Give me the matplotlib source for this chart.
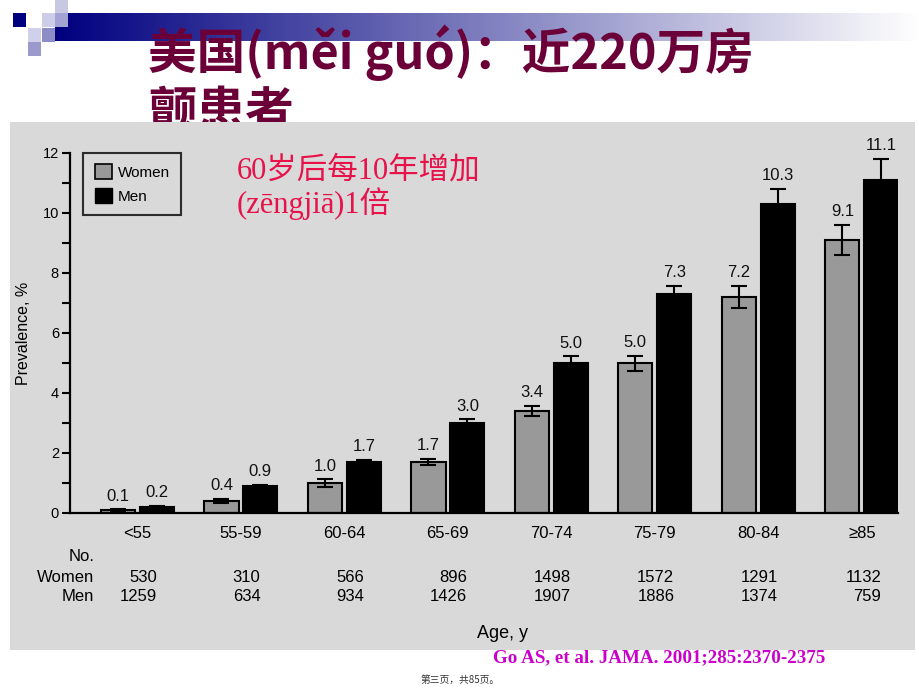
import numpy as np
import matplotlib
matplotlib.use("Agg")
import matplotlib.pyplot as plt
from matplotlib.patches import Rectangle, Patch

# ---- data ----
age_groups = ["<55", "55-59", "60-64", "65-69", "70-74", "75-79", "80-84", "≥85"]
women_prev = [0.1, 0.4, 1.0, 1.7, 3.4, 5.0, 7.2, 9.1]
men_prev = [0.2, 0.9, 1.7, 3.0, 5.0, 7.3, 10.3, 11.1]
women_err = [0.03, 0.07, 0.12, 0.1, 0.17, 0.25, 0.38, 0.5]
men_err = [0.04, 0.05, 0.07, 0.13, 0.23, 0.27, 0.5, 0.7]
women_n = [530, 310, 566, 896, 1498, 1572, 1291, 1132]
men_n = [1259, 634, 934, 1426, 1907, 1886, 1374, 759]

title_line1 = "美国(měi guó)：近220万房"
title_line2 = "颤患者"
note_text = "60岁后每10年增加\n(zēngjiā)1倍"
citation = "Go AS, et al. JAMA. 2001;285:2370-2375"
page_text = "第三页，共85页。"

CJK = ["Noto Sans CJK SC", "DejaVu Sans"]
CHART_FONT = ["Liberation Sans"]

fig = plt.figure(figsize=(9.2, 6.9), dpi=100)
fig.patch.set_facecolor("white")

# ---- slide background (pixel coordinates) ----
bg = fig.add_axes([0, 0, 1, 1])
bg.set_xlim(0, 920)
bg.set_ylim(690, 0)
bg.axis("off")

# gradient header bar
grad = np.linspace(0, 1, 400)[None, :]
navy = np.array([0.0, 0.0, 0.5])
cols = navy[None, None, :] * (1 - grad[..., None]) + np.ones(3)[None, None, :] * grad[..., None]
bg.imshow(cols, extent=(55, 920, 41, 13), aspect="auto", zorder=0.5)

squares = [
    (55, 0, "#c8c8e2"), (13, 13, "#00007f"), (42, 13, "#cdcde8"), (55, 13, "#a4a4d4"),
    (28, 28, "#d0d0ea"), (42, 28, "#8c8cc6"), (28, 42, "#9a9acc"),
]
for sx, sy, c in squares:
    bg.add_patch(Rectangle((sx, sy), 13.5, 14, color=c, lw=0, zorder=0.6))

bg.text(148, 53, title_line1, fontsize=35, fontweight="bold", color="#6b0038",
        family=CJK, va="center", ha="left", zorder=1)
bg.text(148, 113, title_line2, fontsize=35, fontweight="bold", color="#6b0038",
        family=CJK, va="center", ha="left", zorder=1)

# gray chart panel
bg.add_patch(Rectangle((10, 122), 905, 528, color="#d9d9d9", lw=0, zorder=2))

bg.text(493, 658, citation, fontsize=13.7, fontweight="bold", color="#cc00cc",
        family=["Liberation Serif"], va="center", ha="left", zorder=3)
bg.text(460, 680, page_text, fontsize=7, color="#333333", family=CJK,
        va="center", ha="center", zorder=3)

# red note
bg.text(237, 188, note_text, fontsize=22, color="#e8124a",
        family=["Liberation Serif", "Noto Sans CJK SC"], ha="left", va="center",
        linespacing=1.05, zorder=3)

# ---- chart ----
ax = fig.add_axes([70 / 920, 177 / 690, 828 / 920, 360 / 690])
ax.set_facecolor("none")

x = np.arange(len(age_groups))
off = 0.188
w = 0.33

ax.bar(x - off, women_prev, w, color="#999999", edgecolor="black", linewidth=1.5, zorder=2)
ax.bar(x + off, men_prev, w, color="black", edgecolor="black", linewidth=1.5, zorder=2)
ax.errorbar(x - off, women_prev, yerr=women_err, fmt="none", ecolor="black",
            elinewidth=1.5, capsize=6, capthick=1.5, zorder=3)
ax.errorbar(x + off, men_prev, yerr=men_err, fmt="none", ecolor="black",
            elinewidth=1.5, capsize=6, capthick=1.5, zorder=3)

for xs, vals, errs in [(x - off, women_prev, women_err), (x + off, men_prev, men_err)]:
    for xi, v, e in zip(xs, vals, errs):
        ax.annotate(f"{v:.1f}", (xi, v + e), xytext=(0, 4), textcoords="offset points",
                    ha="center", va="bottom", fontsize=12, family=CHART_FONT,
                    color="#111111", annotation_clip=False)

ax.set_xlim(-0.652, 7.35)
ax.set_ylim(0, 12)
ax.set_yticks(np.arange(0, 13, 2))
ax.set_yticks(np.arange(1, 12, 2), minor=True)
ax.tick_params(axis="y", which="both", direction="out", width=1.5, color="black")
ax.tick_params(axis="y", which="major", length=6, labelsize=10.5, pad=2)
ax.tick_params(axis="y", which="minor", length=6)
ax.set_xticks(x)
ax.set_xticklabels(age_groups)
ax.tick_params(axis="x", length=0, pad=9, labelsize=12)
for lab in ax.get_xticklabels() + ax.get_yticklabels():
    lab.set_family(CHART_FONT)

for s in ["top", "right"]:
    ax.spines[s].set_visible(False)
for s in ["left", "bottom"]:
    ax.spines[s].set_linewidth(1.6)

ax.set_ylabel("Prevalence, %", fontsize=11.5, family=CHART_FONT, labelpad=8)
ax.set_xlabel("Age, y", fontsize=13, family=CHART_FONT)
ax.xaxis.set_label_coords(0.522, -0.31)

# numbers table under the axis
tr = ax.get_xaxis_transform()
rows_y = [-0.122, -0.178, -0.233]
lbl_x = 0.029
for ry, name in zip(rows_y, ["No.", "Women", "Men"]):
    ax.text(lbl_x, ry, name, transform=ax.transAxes, ha="right", va="center",
            fontsize=12, family=CHART_FONT)
for xi, wn, mn in zip(x + off, women_n, men_n):
    ax.text(xi, rows_y[1], str(wn), transform=tr, ha="right", va="center",
            fontsize=12, family=CHART_FONT)
    ax.text(xi, rows_y[2], str(mn), transform=tr, ha="right", va="center",
            fontsize=12, family=CHART_FONT)

# legend
handles = [Patch(facecolor="#999999", edgecolor="black", linewidth=1.2, label="Women"),
           Patch(facecolor="black", edgecolor="black", label="Men")]
leg = ax.legend(handles=handles, loc="upper left", bbox_to_anchor=(0.016, 1.0),
                borderaxespad=0, frameon=True, fancybox=False, edgecolor="black",
                facecolor="none", handlelength=1.1, handleheight=1.1, handletextpad=0.4,
                labelspacing=0.55, borderpad=0.75, prop={"family": CHART_FONT, "size": 11})
leg.get_frame().set_linewidth(1.5)

fig.savefig("out.png", dpi=100)
